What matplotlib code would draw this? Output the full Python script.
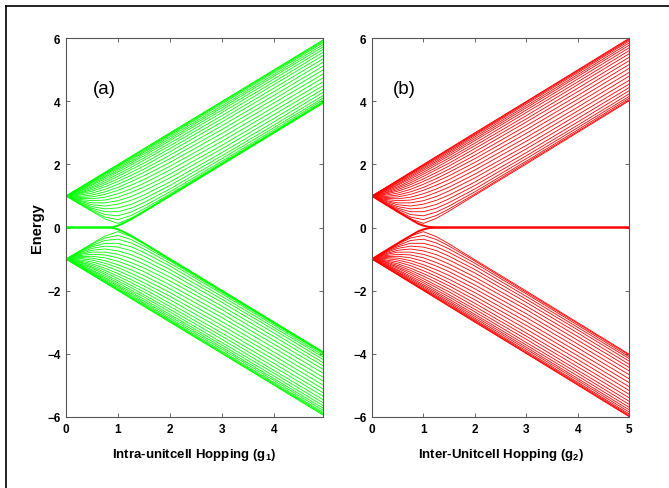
import matplotlib
matplotlib.use('Agg')
import matplotlib.pyplot as plt
from matplotlib.lines import Line2D

# hopping values where the curves were read
hop = [0.0, 0.25, 0.5, 0.75, 1.0, 1.25, 1.5, 2.0, 3.0, 4.0, 5.0]

# upper band, one row per eigenvalue curve (same curves in both panels)
upper_band = [
    [1.00, 1.25, 1.50, 1.75, 2.00, 2.25, 2.50, 3.00, 3.99, 4.99, 5.99],
    [1.00, 1.24, 1.49, 1.74, 1.98, 2.23, 2.48, 2.98, 3.98, 4.97, 5.97],
    [1.00, 1.24, 1.48, 1.72, 1.96, 2.21, 2.46, 2.95, 3.95, 4.94, 5.94],
    [1.00, 1.23, 1.46, 1.70, 1.94, 2.18, 2.42, 2.92, 3.91, 4.90, 5.90],
    [1.00, 1.21, 1.43, 1.67, 1.90, 2.14, 2.38, 2.87, 3.85, 4.84, 5.84],
    [1.00, 1.19, 1.41, 1.63, 1.86, 2.09, 2.33, 2.81, 3.79, 4.78, 5.77],
    [1.00, 1.18, 1.37, 1.59, 1.81, 2.04, 2.27, 2.75, 3.72, 4.70, 5.69],
    [1.00, 1.15, 1.34, 1.54, 1.75, 1.98, 2.20, 2.67, 3.64, 4.61, 5.60],
    [1.00, 1.13, 1.29, 1.48, 1.69, 1.90, 2.13, 2.59, 3.54, 4.52, 5.50],
    [1.00, 1.10, 1.25, 1.42, 1.62, 1.83, 2.04, 2.50, 3.44, 4.41, 5.39],
    [1.00, 1.08, 1.20, 1.36, 1.54, 1.74, 1.95, 2.40, 3.34, 4.30, 5.28],
    [1.00, 1.05, 1.15, 1.29, 1.46, 1.65, 1.85, 2.29, 3.22, 4.18, 5.16],
    [1.00, 1.02, 1.09, 1.21, 1.37, 1.55, 1.75, 2.18, 3.10, 4.06, 5.04],
    [1.00, 0.98, 1.03, 1.13, 1.27, 1.45, 1.64, 2.06, 2.98, 3.94, 4.91],
    [1.00, 0.95, 0.97, 1.05, 1.18, 1.34, 1.52, 1.94, 2.85, 3.81, 4.79],
    [1.00, 0.92, 0.91, 0.96, 1.07, 1.22, 1.40, 1.82, 2.73, 3.69, 4.66],
    [1.00, 0.89, 0.85, 0.87, 0.96, 1.11, 1.28, 1.69, 2.60, 3.57, 4.54],
    [1.00, 0.86, 0.78, 0.78, 0.85, 0.98, 1.16, 1.57, 2.49, 3.45, 4.43],
    [1.00, 0.84, 0.72, 0.68, 0.74, 0.86, 1.03, 1.44, 2.37, 3.34, 4.33],
    [1.00, 0.81, 0.66, 0.59, 0.62, 0.73, 0.91, 1.33, 2.27, 3.24, 4.23],
    [1.00, 0.79, 0.61, 0.50, 0.50, 0.61, 0.79, 1.22, 2.18, 3.16, 4.15],
    [1.00, 0.77, 0.57, 0.41, 0.37, 0.49, 0.68, 1.13, 2.10, 3.09, 4.09],
    [1.00, 0.76, 0.53, 0.33, 0.25, 0.38, 0.59, 1.06, 2.05, 3.04, 4.04],
    [1.00, 0.75, 0.51, 0.27, 0.13, 0.29, 0.52, 1.02, 2.01, 3.01, 4.01],
]

lower_band = [
    [-1.00, -1.25, -1.50, -1.75, -2.00, -2.25, -2.50, -3.00, -3.99, -4.99, -5.99],
    [-1.00, -1.24, -1.49, -1.74, -1.98, -2.23, -2.48, -2.98, -3.98, -4.97, -5.97],
    [-1.00, -1.24, -1.48, -1.72, -1.96, -2.21, -2.46, -2.95, -3.95, -4.94, -5.94],
    [-1.00, -1.23, -1.46, -1.70, -1.94, -2.18, -2.42, -2.92, -3.91, -4.90, -5.90],
    [-1.00, -1.21, -1.43, -1.67, -1.90, -2.14, -2.38, -2.87, -3.85, -4.84, -5.84],
    [-1.00, -1.19, -1.41, -1.63, -1.86, -2.09, -2.33, -2.81, -3.79, -4.78, -5.77],
    [-1.00, -1.18, -1.37, -1.59, -1.81, -2.04, -2.27, -2.75, -3.72, -4.70, -5.69],
    [-1.00, -1.15, -1.34, -1.54, -1.75, -1.98, -2.20, -2.67, -3.64, -4.61, -5.60],
    [-1.00, -1.13, -1.29, -1.48, -1.69, -1.90, -2.13, -2.59, -3.54, -4.52, -5.50],
    [-1.00, -1.10, -1.25, -1.42, -1.62, -1.83, -2.04, -2.50, -3.44, -4.41, -5.39],
    [-1.00, -1.08, -1.20, -1.36, -1.54, -1.74, -1.95, -2.40, -3.34, -4.30, -5.28],
    [-1.00, -1.05, -1.15, -1.29, -1.46, -1.65, -1.85, -2.29, -3.22, -4.18, -5.16],
    [-1.00, -1.02, -1.09, -1.21, -1.37, -1.55, -1.75, -2.18, -3.10, -4.06, -5.04],
    [-1.00, -0.98, -1.03, -1.13, -1.27, -1.45, -1.64, -2.06, -2.98, -3.94, -4.91],
    [-1.00, -0.95, -0.97, -1.05, -1.18, -1.34, -1.52, -1.94, -2.85, -3.81, -4.79],
    [-1.00, -0.92, -0.91, -0.96, -1.07, -1.22, -1.40, -1.82, -2.73, -3.69, -4.66],
    [-1.00, -0.89, -0.85, -0.87, -0.96, -1.11, -1.28, -1.69, -2.60, -3.57, -4.54],
    [-1.00, -0.86, -0.78, -0.78, -0.85, -0.98, -1.16, -1.57, -2.49, -3.45, -4.43],
    [-1.00, -0.84, -0.72, -0.68, -0.74, -0.86, -1.03, -1.44, -2.37, -3.34, -4.33],
    [-1.00, -0.81, -0.66, -0.59, -0.62, -0.73, -0.91, -1.33, -2.27, -3.24, -4.23],
    [-1.00, -0.79, -0.61, -0.50, -0.50, -0.61, -0.79, -1.22, -2.18, -3.16, -4.15],
    [-1.00, -0.77, -0.57, -0.41, -0.37, -0.49, -0.68, -1.13, -2.10, -3.09, -4.09],
    [-1.00, -0.76, -0.53, -0.33, -0.25, -0.38, -0.59, -1.06, -2.05, -3.04, -4.04],
    [-1.00, -0.75, -0.51, -0.27, -0.13, -0.29, -0.52, -1.02, -2.01, -3.01, -4.01],
]

# edge-state curves (zero modes)
edge_hop = [0.0, 0.25, 0.5, 0.75, 0.9, 1.0, 1.1, 1.25, 1.5, 2.0, 3.0, 4.0, 5.0]
edge_a_up = [0.0, 0.0, 0.0, 0.0, 0.01, 0.06, 0.13, 0.26, 0.50, 1.00, 2.00, 3.00, 4.00]
edge_a_dn = [0.0, 0.0, 0.0, 0.0, -0.01, -0.06, -0.13, -0.26, -0.50, -1.00, -2.00, -3.00, -4.00]
edge_b_up = [1.00, 0.75, 0.50, 0.26, 0.12, 0.06, 0.02, 0.005, 0.0, 0.0, 0.0, 0.0, 0.0]
edge_b_dn = [-1.00, -0.75, -0.50, -0.26, -0.12, -0.06, -0.02, -0.005, 0.0, 0.0, 0.0, 0.0, 0.0]

yticks = [-6, -4, -2, 0, 2, 4, 6]
xticks_a = [0, 1, 2, 3, 4]
xticks_b = [0, 1, 2, 3, 4, 5]

plt.rcParams['font.family'] = ['Liberation Sans', 'DejaVu Sans']
plt.rcParams['mathtext.default'] = 'regular'

fig = plt.figure(figsize=[6.69, 4.89], dpi=100)
ax1 = fig.add_axes([0.0987, 0.1452, 0.3842, 0.775])
ax2 = fig.add_axes([0.5561, 0.1452, 0.3842, 0.775])

# frame of the original screenshot
fig.add_artist(Line2D([6/669., 6/669.], [0., 1-7/489.], color='black', lw=1.2))
fig.add_artist(Line2D([6/669., 1.], [1-7/489., 1-7/489.], color='black', lw=1.2))

for ax, col in [(ax1, '#00ff00'), (ax2, '#ff0000')]:
    for row in upper_band:
        ax.plot(hop, row, color=col, lw=0.6)
    for row in lower_band:
        ax.plot(hop, row, color=col, lw=0.6)

ax1.plot(edge_hop, edge_a_up, color='#00ff00', lw=1.4)
ax1.plot(edge_hop, edge_a_dn, color='#00ff00', lw=1.4)
ax2.plot(edge_hop, edge_b_up, color='#ff0000', lw=1.4)
ax2.plot(edge_hop, edge_b_dn, color='#ff0000', lw=1.4)

ax1.set_xlim(0, 4.95)
ax2.set_xlim(0, 5)
ax1.set_xticks(xticks_a)
ax2.set_xticks(xticks_b)
for ax in (ax1, ax2):
    ax.set_ylim(-6, 6)
    ax.set_yticks(yticks)
    ax.tick_params(direction='in', length=3, width=0.6, color='#555555',
                   top=True, right=True, labelsize=8.5, pad=4)
    for lab in ax.get_xticklabels() + ax.get_yticklabels():
        lab.set_fontweight('bold')
    for sp in ax.spines.values():
        sp.set_color('#555555')
        sp.set_linewidth(0.8)

ax1.set_ylabel('Energy', fontsize=10.5, fontweight='bold', labelpad=2)
ax1.set_xlabel('Intra-unitcell Hopping (g$_1$)', fontsize=9.5, fontweight='bold', labelpad=8)
ax2.set_xlabel('Inter-Unitcell Hopping (g$_2$)', fontsize=9.5, fontweight='bold', labelpad=8)

ax1.text(0.74, 4.4, '(a)', fontsize=13.5, ha='center', va='center')
ax2.text(0.62, 4.4, '(b)', fontsize=13.5, ha='center', va='center')

plt.savefig('out.png', dpi=100)
